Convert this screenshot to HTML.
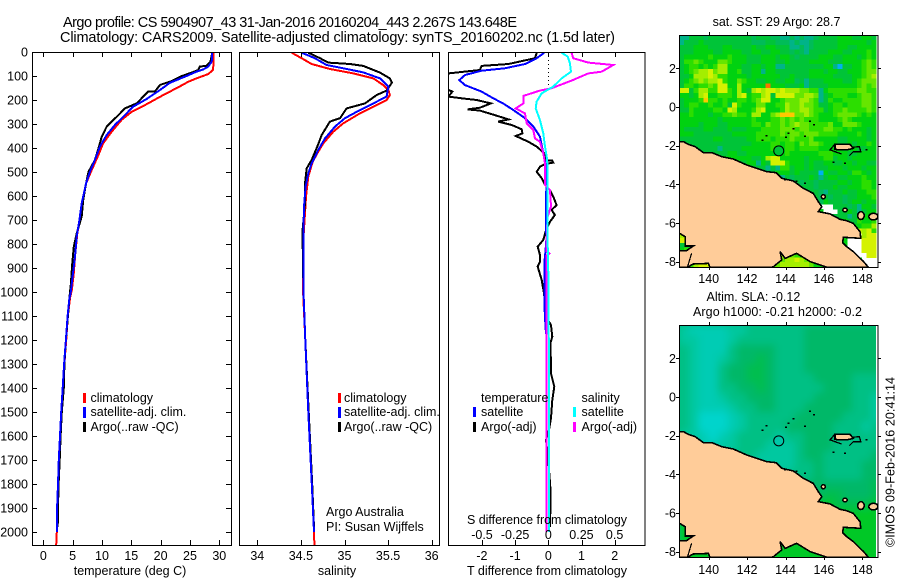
<!DOCTYPE html>
<html>
<head>
<meta charset="utf-8">
<title>Argo profile</title>
<style>
html,body{margin:0;padding:0;background:#fff;width:900px;height:580px;overflow:hidden}
svg{display:block}
text{font-family:"Liberation Sans",sans-serif;font-size:12.5px;fill:#000}
.title{font-size:14.5px}
.line{fill:none;stroke-width:2;stroke-linejoin:miter;shape-rendering:crispEdges}
.frame{fill:none;stroke:#000;stroke-width:1;shape-rendering:crispEdges}
.tick{stroke:#000;stroke-width:1;shape-rendering:crispEdges}
.key{shape-rendering:crispEdges}
.land{fill:#ffcc99;stroke:#000;stroke-width:1.6;shape-rendering:crispEdges}
</style>
</head>
<body>
<svg id="chart" xmlns="http://www.w3.org/2000/svg" width="900" height="580" viewBox="0 0 900 580">
<defs>
<clipPath id="clip-diff"><rect x="449" y="52" width="196" height="493"/></clipPath>
<clipPath id="clip-map1"><rect x="679.5" y="35" width="198" height="232.5"/></clipPath>
<clipPath id="clip-map2"><rect x="679.5" y="325" width="198" height="232.5"/></clipPath>
<filter id="sla-blur" x="-5%" y="-5%" width="110%" height="110%"><feGaussianBlur stdDeviation="4"/></filter>
</defs>

<text class="title" x="63" y="27" textLength="454" lengthAdjust="spacing">Argo profile: CS 5904907_43 31-Jan-2016 20160204_443 2.267S 143.648E</text>
<text class="title" x="60" y="42" textLength="555" lengthAdjust="spacing">Climatology: CARS2009. Satellite-adjusted climatology: synTS_20160202.nc (1.5d later)</text>

<g id="p1"></g>
<g id="p2"></g>
<g id="p3"></g>
<g id="m1"></g>
<g id="m2"></g>

<text x="130" y="575" text-anchor="middle">temperature (deg C)</text>
<text x="337" y="575" text-anchor="middle">salinity</text>
<text x="547" y="575" text-anchor="middle" textLength="160" lengthAdjust="spacing">T difference from climatology</text>
<text x="547" y="524" text-anchor="middle" textLength="160" lengthAdjust="spacing">S difference from climatology</text>

<g>
<rect class="key" x="83" y="393" width="3" height="10" fill="#ff0000"/>
<rect class="key" x="83" y="407" width="3" height="11" fill="#0000ff"/>
<rect class="key" x="83" y="422" width="3" height="10" fill="#000000"/>
<text x="90.5" y="402">climatology</text>
<text x="90.5" y="416">satellite-adj. clim.</text>
<text x="90.5" y="431">Argo(..raw -QC)</text>
</g>
<g>
<rect class="key" x="338" y="393" width="3" height="10" fill="#ff0000"/>
<rect class="key" x="338" y="407" width="3" height="11" fill="#0000ff"/>
<rect class="key" x="338" y="422" width="3" height="10" fill="#000000"/>
<text x="344" y="402">climatology</text>
<text x="344" y="416">satellite-adj. clim.</text>
<text x="344" y="431">Argo(..raw -QC)</text>
</g>
<g>
<text x="481" y="402">temperature</text>
<rect class="key" x="473" y="407" width="3" height="10" fill="#0000ff"/>
<rect class="key" x="473" y="422" width="3" height="10" fill="#000000"/>
<text x="481" y="416">satellite</text>
<text x="481" y="431">Argo(-adj)</text>
<text x="581.5" y="402">salinity</text>
<rect class="key" x="573" y="407" width="3" height="10" fill="#00ffff"/>
<rect class="key" x="573" y="422" width="3" height="10" fill="#ff00ff"/>
<text x="581.5" y="416">satellite</text>
<text x="581.5" y="431">Argo(-adj)</text>
</g>

<text x="326" y="516">Argo Australia</text>
<text x="326" y="531">PI: Susan Wijffels</text>

<text x="776.5" y="26" text-anchor="middle">sat. SST: 29 Argo: 28.7</text>
<text x="706.5" y="301">Altim. SLA: -0.12</text>
<text x="693" y="316" textLength="169" lengthAdjust="spacing">Argo h1000: -0.21 h2000: -0.2</text>
<text transform="translate(894.5,547) rotate(-90)" textLength="170" lengthAdjust="spacing">©IMOS 09-Feb-2016 20:41:14</text>
</svg>

<script>
// ---- profile tick data ----
const depthTicks = [0,100,200,300,400,500,600,700,800,900,1000,1100,1200,1300,1400,1500,1600,1700,1800,1900,2000];
const tempTicks = [0,5,10,15,20,25,30];
const salTicks = [34,34.5,35,35.5,36];
const salTickLabels = ['34','34.5','35','35.5','36'];
const tDiffTicks = [-2,-1,0,1,2];
const tDiffLabels = ['-2','-1','0','1','2'];
const sDiffTicks = [-0.5,-0.25,0,0.25,0.5];
const sDiffLabels = ['-0.5','-0.25','0','0.25','0.5'];

// ---- temperature panel ----
const climDepth = [0,47,75,92,110,124,147,179,225,249,283,332,381,429,492,547,631,700,756,839,922,992,1026,1100,1200,1300,1400,1500,1600,1700,1800,1900,2000,2054];
const climTemp = [28.98,29.03,28.9,28.1,26.1,24.7,23.0,20.45,17.05,15.05,13.35,11.65,10.2,9.4,8.25,7.3,6.7,6.25,5.8,5.45,5.2,4.85,4.55,4.2,3.9,3.6,3.4,3.1,2.85,2.65,2.5,2.4,2.3,2.2];
const satDepth = [0,40,61,72,82,100,117,128,158,196,228,263,304,346,394,450,499,547,631,700,769,853,936,1006,1026,1100,1200,1300,1400,1500,1600,1700,1800,1900,2000];
const satTemp = [28.8,28.7,28.1,27.3,26.1,24.4,22.7,21.6,19.9,17.6,15.3,13.9,12.2,10.8,9.65,8.8,7.95,7.3,6.55,6.15,5.7,5.4,5.0,4.65,4.45,4.15,3.85,3.55,3.3,3.05,2.85,2.65,2.5,2.35,2.3];
const argoDepth = [0,40,57,61,75,86,100,121,137,165,165,186,214,235,263,290,311,353,394,450,499,547,617,686,756,811,894,964,1026,1100,1200,1300,1400,1500,1600,1700,1800,1900,1980];
const argoTemp = [28.8,28.5,27.85,26.7,26.4,25.3,23.6,21.9,19.9,19.0,17.9,17.05,15.9,13.9,12.8,11.65,10.8,9.95,9.5,8.8,7.7,7.3,6.8,6.55,5.7,5.2,4.9,4.7,4.45,4.2,3.85,3.6,3.5,3.15,2.95,2.8,2.6,2.5,2.45];

// ---- salinity panel ----
const climSalDepth = [3,26,50,71,89,110,138,158,179,200,228,256,297,332,381,422,457,519,603,672,783,1000,1200,1500,1800,2000,2054];
const climSal = [34.394,34.508,34.623,34.833,35.101,35.33,35.445,35.502,35.521,35.483,35.33,35.177,34.986,34.872,34.757,34.688,34.635,34.585,34.558,34.547,34.527,34.525,34.55,34.585,34.625,34.65,34.655];
const satSalDepth = [3,26,54,68,85,110,144,186,214,242,276,311,360,408,464,506,561,644,783,1000,1200,1500,1800,2000];
const satSal = [34.508,34.661,34.795,34.986,35.216,35.407,35.502,35.483,35.33,35.177,35.005,34.891,34.776,34.7,34.623,34.585,34.554,34.535,34.527,34.53,34.55,34.585,34.625,34.65];
const argoSalDepth = [3,26,44,50,58,86,110,128,161,179,214,235,276,290,346,394,450,485,547,631,742,783,1000,1200,1500,1800,1980];
const argoSal = [34.585,34.719,34.814,35.063,35.216,35.407,35.521,35.544,35.483,35.369,35.235,35.024,34.948,34.833,34.738,34.688,34.623,34.566,34.547,34.547,34.52,34.52,34.53,34.55,34.59,34.63,34.65];

// ---- difference panel ----
const tSatDepth = [3,26,50,68,78,96,117,138,165,193,214,242,276,311,353,422,478,547,603,783,825,881,1047,1152,1186,2000];
const tSatDiff = [-0.12,-0.35,-0.7,-1.31,-2.01,-2.51,-2.68,-2.51,-2.01,-1.66,-1.36,-1.05,-0.7,-0.45,-0.25,-0.15,-0.07,-0.05,-0.07,-0.06,-0.08,-0.12,-0.12,-0.08,-0.05,-0.05];
const tArgoDepth = [3,26,50,58,75,89,103,144,158,165,186,193,200,214,232,239,244,263,281,290,304,322,339,350,374,394,422,450,453,461,467,478,499,526,554,575,603,638,658,679,707,742,783,811,846,874,894,950,1006,1047,1103,1138,1186,1214,1297,1339,1394,1450,1526,1575,1617,1700,1812,1917,1980];
const tArgoDiff = [-0.35,-0.4,-1.2,-2.01,-2.06,-3.01,-3.7,-3.7,-3.01,-2.89,-3.01,-2.61,-2.16,-1.73,-2.06,-2.43,-2.06,-1.61,-1.2,-1.51,-1.1,-0.8,-0.78,-0.98,-0.6,-0.35,-0.12,-0.1,0.12,0.15,-0.1,-0.25,-0.35,-0.2,-0.1,0.05,0.15,0.25,0.1,0.2,0.05,-0.07,-0.15,-0.32,-0.25,-0.25,-0.32,-0.2,-0.13,-0.1,-0.07,0.08,0.12,0.06,0.08,0.08,0.18,0.12,0.08,0.02,-0.07,0,0.06,0.06,0.05];
const sArgoDepth = [3,26,44,54,82,89,119,151,161,183,214,235,256,297,325,360,374,422,464,533,554,575,644,686,783,830,839,848,2000];
const sArgoDiff = [0.176,0.188,0.302,0.49,0.402,0.302,0.176,0.025,-0.063,-0.188,-0.188,-0.246,-0.176,-0.163,-0.113,-0.1,-0.063,-0.038,-0.025,-0.025,-0.025,0.013,0.02,-0.005,-0.013,-0.013,0.008,-0.013,-0.013];
const sSatDepth = [3,19,47,82,110,144,172,207,235,283,339,394,450,533,783,1000,2000];
const sSatDiff = [0.1,0.146,0.163,0.171,0.1,0.038,-0.05,-0.088,-0.095,-0.063,-0.038,-0.025,-0.008,-0.005,-0.005,0.003,0.005];

// ---- map data ----
const lonTicks = [140,142,144,146,148];
const latTicks = [2,0,-2,-4,-6,-8];
const latTickLabels = ['2','0','-2','-4','-6','-8'];
const gridLon0 = 138.47;
const gridLat0 = 3.72;
const sstCellDeg = 0.25;
const slaCellDeg = 0.5;
const sstCols = 41;
const profileLon = 143.648;
const profileLat = -2.267;

const sstPalette = {t:'#00b488',a:'#00bcc0',b:'#00b0f0','0':'#00bc58','1':'#00c438','2':'#00d210','3':'#2cde00','4':'#66e600','5':'#a4ee00','6':'#d4f200','7':'#ffc800','8':'#ff7000'};
const sstRows = [
"tt1110111111111011100tt0t0tt0111122211221",
"t1112111111111100011000t0tt01111122222212",
"11122211122111121122111tt0t01111122112222",
"11122221122221122112211010t11112221122232",
"12222232223222111222122101111222112221232",
"13343222443222111222112111122221112222343",
"12332323552221122122tt1111111122tb1122343",
"12345564552231122t22111111122212211222344",
"11255565332222122222211211122222111122345",
"12345455632243221122112201t11122221123444",
"13323343662252222282221112t11112222223434",
"66135533663252156566565554433t23333334433",
"22125622333256233561666644554t12333223443",
"12223733232233234662234445543t13223333443",
"12332232231632224422335445443112332333443",
"11322223326522235622235445543312334333343",
"22322212233433255224577744543222344443232",
"22222222122222232223343434333222234322222",
"22221222112222233243343454433334224443222",
"21111221112111222333344434433344332322212",
"22211111111222223333343443444333322223212",
"11111112211111223332333433342222211222212",
"11111111111111122223323324344322211212232",
"11111111t11112222223223323333222221221122",
"ttt11111112211222222223222222333222112222",
"ttt11111122222211256622222122233122122222",
"tttttt1111111122t216663222121122112212211",
"1112t1111111111111t1t33122121112221222122",
"222222222221111tt111222121111b21122133212",
"22222222222222t111111t1011121t12211222322",
"2222222222222222111ttt1t10110111122122332",
"22222222222222222221t1t121110111211222332",
"222222222222222222222t1t101110t1112112233",
"22222222222222222222222211t01010110112223",
"22222222222222222222222222211021110122122",
"22222222222222222222222222222...11101t221",
"222222222222222222222222222222...1121t122",
"22222222222222222222222222222222111t11222",
"22222222222222222222222222222222222113223",
"22222222222222222222222222222222222222335",
"22222222222222222222222222222222222246563",
"55222222222222222222222222222222222...566",
"66222222222222222222222222222222222...666",
"11222222222222222222362222222222222...666",
"23222222222222222223223442222222222...666",
"22222222222222222212355432222222222....66",
"22222222222222222222345565442222222222...",
"22356662222222222223455555542222222222..."
];

const slaPalette = {'0':'#00c828','1':'#00be50','2':'#00b868','3':'#00c084','4':'#00c8a0','5':'#00ccb4','6':'#00d4cc'};
const slaRows = [
"455554433333322222222",
"445554333333322222222",
"345553222233322222222",
"345543221233322222222",
"345532211233322222222",
"345532211233332222333",
"345533221233333222333",
"345543322233332222334",
"345554332233322222334",
"346665433333222223334",
"346665433332222233343",
"445654333343322233333",
"445544333444322233333",
"444443334444322333332",
"444444444444332333322",
"444444444433332333322",
"444444444433222222221",
"444444444333222112221",
"000000000000000011110",
"000000000000000000000",
"000000000000000000000",
"000000000000000000000",
"000000000000000000000",
"000000000000000000000",
"000000000000000000000"
];

const coastLon = [138.47,138.68,138.94,139.29,139.72,140.16,140.68,141.28,141.98,142.5,143.02,143.51,143.8,144.41,144.93,145.45,145.71,145.89,145.71,146.32,146.84,147.19,147.53,147.88,147.92,147.01,146.98,147.19,147.53,148.06,148.32,146.15,145.28,144.58,143.98,143.72,143.8,143.37,143.28,140.07,139.98,139.2,138.89,138.47,138.47,138.85,139.2,138.77,138.77,138.47];
const coastLat = [-1.79,-1.79,-1.93,-2.05,-2.36,-2.36,-2.57,-2.69,-3.0,-3.17,-3.34,-3.4,-3.69,-3.83,-4.21,-4.47,-4.9,-5.16,-5.41,-5.53,-5.81,-5.88,-6.02,-6.45,-6.79,-6.74,-7.02,-7.22,-7.48,-8.0,-8.29,-8.29,-8.0,-7.57,-7.83,-7.48,-7.91,-8.26,-8.29,-8.29,-8.09,-8.12,-8.29,-8.29,-7.43,-7.43,-7.19,-7.19,-6.71,-6.53];
const manusLon = [146.58,147.36,147.53,147.19,146.84,146.58];
const manusLat = [-1.93,-1.93,-2.14,-2.22,-2.22,-2.19];
const reefLon = [146.92,146.32,146.53,147.45,147.85,147.92,147.53,147.33];
const reefLat = [-2.43,-2.22,-1.97,-2.09,-2.05,-2.31,-2.31,-2.52];
const riverLon = [139.11,138.89];
const riverLat = [-7.57,-8.29];
const isleLon = [145.97,147.1,147.93,148.58];
const isleLat = [-4.64,-5.33,-5.62,-5.67];
const isleRadLon = [0.1,0.11,0.17,0.24];
const isleRadLat = [0.11,0.1,0.2,0.17];
const islandDotLon = [142.81,143.02,144.03,144.15,144.41,145.02,145.28,145.49,146.49,147.1,148.23,143.98,144.58,145.02];
const islandDotLat = [-1.74,-1.5,-1.57,-1.36,-1.14,-1.53,-0.76,-0.93,-2.88,-2.91,-2.22,-3.78,-3.86,-3.95];

// ---- axis functions ----
const depthY = d => 52 + 0.24 * d;
const tempX = t => 43.3 + 5.867 * t;
const salX = s => 257.3 + 87.2 * (s - 34);
const tDiffX = t => 548.3 + 33.2 * t;
const sDiffX = s => 548.3 + 132.6 * s;
const lonX = lon => 708.7 + 19.2 * (lon - 140);
const latY = (lat, base) => base - 19.33 * lat;

const NS = 'http://www.w3.org/2000/svg';
function make(parent, tag, attrs) {
  const el = document.createElementNS(NS, tag);
  for (const k in attrs) el.setAttribute(k, attrs[k]);
  parent.appendChild(el);
  return el;
}
function profile(parent, name, xs, ds, xf, color, width) {
  const pts = xs.map((v, i) => xf(v).toFixed(1) + ',' + depthY(ds[i]).toFixed(1)).join(' ');
  const el = make(parent, 'polyline', {points: pts, class: 'line', stroke: color, 'stroke-width': width || 2});
  
  
  return el;
}
function tickLine(parent, x1, y1, x2, y2) {
  const el = make(parent, 'line', {x1: x1, y1: y1, x2: x2, y2: y2, class: 'tick'});
  
  
}
function label(parent, x, y, str, anchor) {
  const el = make(parent, 'text', {x: x, y: y, 'text-anchor': anchor || 'middle'});
  el.textContent = str;
  
  
}
function frame(parent, x, y, w, h) {
  const el = make(parent, 'rect', {x: x, y: y, width: w, height: h, class: 'frame'});
  
  
}
function xTicks(parent, vals, labels, xf, top, bottom, labelY) {
  vals.forEach((v, i) => {
    const x = Math.round(xf(v)) + 0.5;
    tickLine(parent, x, top, x, top + 5);
    tickLine(parent, x, bottom, x, bottom - 5);
    if (labelY) label(parent, xf(v), labelY, labels[i]);
  });
}

// ---- temperature panel ----
const p1 = document.getElementById('p1');
profile(p1, 'climatology-temperature-line', climTemp, climDepth, tempX, '#ff0000');
profile(p1, 'argo-temperature-line', argoTemp, argoDepth, tempX, '#000000', 2.4);
profile(p1, 'satellite-temperature-line', satTemp, satDepth, tempX, '#0000ff', 2.4);
frame(p1, 32.5, 52.5, 199, 493);
xTicks(p1, tempTicks, tempTicks.map(String), tempX, 52, 545, 560);
depthTicks.forEach(d => {
  const y = Math.round(depthY(d)) + 0.5;
  tickLine(p1, 32, y, 37, y);
  tickLine(p1, 231, y, 226, y);
  label(p1, 28, depthY(d) + 4.5, String(d), 'end');
});

// ---- salinity panel ----
const p2 = document.getElementById('p2');
profile(p2, 'climatology-salinity-line', climSal, climSalDepth, salX, '#ff0000');
profile(p2, 'argo-salinity-line', argoSal, argoSalDepth, salX, '#000000', 2.4);
profile(p2, 'satellite-salinity-line', satSal, satSalDepth, salX, '#0000ff', 2.4);
frame(p2, 239.5, 52.5, 200, 493);
xTicks(p2, salTicks, salTickLabels, salX, 52, 545, 560);

// ---- difference panel ----
const p3 = document.getElementById('p3');
const zeroLine = make(p3, 'line', {x1: 548.5, y1: 52, x2: 548.5, y2: depthY(150), stroke: '#000', 'stroke-width': 1, 'stroke-dasharray': '1 3', 'shape-rendering': 'crispEdges'});


const p3Clip = make(p3, 'g', {'clip-path': 'url(#clip-diff)'});


profile(p3Clip, 'argo-temperature-difference-line', tArgoDiff, tArgoDepth, tDiffX, '#000000', 2.4);
profile(p3Clip, 'satellite-temperature-difference-line', tSatDiff, tSatDepth, tDiffX, '#0000ff');
profile(p3Clip, 'argo-salinity-difference-line', sArgoDiff, sArgoDepth, sDiffX, '#ff00ff', 2.4);
const sSatSplit = sSatDepth.indexOf(533);
profile(p3Clip, 'satellite-salinity-difference-line-upper', sSatDiff.slice(0, sSatSplit + 1), sSatDepth.slice(0, sSatSplit + 1), sDiffX, '#00ffff', 2.4);
profile(p3Clip, 'satellite-salinity-difference-line-deep', sSatDiff.slice(sSatSplit), sSatDepth.slice(sSatSplit), sDiffX, '#00ffff', 3.6);
frame(p3, 448.5, 52.5, 196.5, 493);
xTicks(p3, tDiffTicks, tDiffLabels, tDiffX, 52, 545, 560);
sDiffTicks.forEach((s, i) => label(p3, sDiffX(s), 539, sDiffLabels[i]));

// ---- maps ----
function drawLand(g, base) {
  const land = make(g, 'polygon', {class: 'land', points: coastLon.map((v, i) => lonX(v).toFixed(1) + ',' + latY(coastLat[i], base).toFixed(1)).join(' ')});
  
  
  const reef = make(g, 'polyline', {fill: 'none', stroke: '#000', 'stroke-width': 1.3, 'shape-rendering': 'crispEdges', points: reefLon.map((v, i) => lonX(v).toFixed(1) + ',' + latY(reefLat[i], base).toFixed(1)).join(' ')});
  
  
  const manus = make(g, 'polygon', {class: 'land', 'stroke-width': 2, points: manusLon.map((v, i) => lonX(v).toFixed(1) + ',' + latY(manusLat[i], base).toFixed(1)).join(' ')});
  
  
  const river = make(g, 'polyline', {fill: 'none', stroke: '#000', 'stroke-width': 1.2, 'shape-rendering': 'crispEdges', points: riverLon.map((v, i) => lonX(v).toFixed(1) + ',' + latY(riverLat[i], base).toFixed(1)).join(' ')});
  
  
  isleLon.forEach((v, i) => {
    const isle = make(g, 'ellipse', {class: 'land', cx: lonX(v), cy: latY(isleLat[i], base), rx: isleRadLon[i] * 19.2, ry: isleRadLat[i] * 19.33, 'stroke-width': 1});
    
    
  });
  islandDotLon.forEach((v, i) => {
    const dot = make(g, 'rect', {x: lonX(v) - 1, y: latY(islandDotLat[i], base) - 1, width: 2, height: 1.5, fill: '#000', 'shape-rendering': 'crispEdges'});
    
    
  });
}
function drawMapFrame(g, top, bottom, base, labelY) {
  frame(g, 679.5, top + 0.5, 198.5, bottom - top);
  lonTicks.forEach(v => {
    const x = Math.round(lonX(v)) + 0.5;
    tickLine(g, x, top, x, top - 3);
    tickLine(g, x, bottom, x, bottom + 3);
    label(g, lonX(v), labelY, String(v));
  });
  latTicks.forEach((v, i) => {
    const y = Math.round(latY(v, base)) + 0.5;
    tickLine(g, 679, y, 676, y);
    tickLine(g, 878, y, 881, y);
    label(g, 676, latY(v, base) + 4.5, latTickLabels[i], 'end');
  });
}
function marker(g, base, fill) {
  const c = make(g, 'circle', {cx: lonX(profileLon), cy: latY(profileLat, base), r: 5, fill: fill, stroke: '#000', 'stroke-width': 1});
  
  
}

// SST map
const m1 = document.getElementById('m1');
const m1Base = 107;
const m1Clip = make(m1, 'g', {'clip-path': 'url(#clip-map1)'});


sstRows.forEach((row, r) => {
  for (let c = 0; c < sstCols; c++) {
    const code = c < row.length ? row[c] : row[row.length - 1];
    const col = sstPalette[code];
    if (!col) continue;
    const lon = gridLon0 + c * sstCellDeg;
    const lat = gridLat0 - r * sstCellDeg;
    const cell = make(m1Clip, 'rect', {
      x: lonX(lon), y: latY(lat, m1Base),
      width: lonX(lon + sstCellDeg) - lonX(lon) + 0.4,
      height: latY(lat - sstCellDeg, m1Base) - latY(lat, m1Base) + 0.4,
      fill: col, 'shape-rendering': 'crispEdges'
    });
    
    
  }
});
drawLand(m1Clip, m1Base);
marker(m1Clip, m1Base, '#00c438');
drawMapFrame(m1, 35, 267, m1Base, 283);

// SLA map
const m2 = document.getElementById('m2');
const m2Base = 397;
const m2Clip = make(m2, 'g', {'clip-path': 'url(#clip-map2)'});


const slaBack = make(m2Clip, 'rect', {x: 679, y: 325, width: 197, height: 233, fill: '#00c084'});


const slaGroup = make(m2Clip, 'g', {filter: 'url(#sla-blur)'});


slaRows.forEach((row, r) => {
  for (let c = 0; c < row.length; c++) {
    const lon = gridLon0 + c * slaCellDeg;
    const lat = gridLat0 - r * slaCellDeg;
    const cell = make(slaGroup, 'rect', {
      x: lonX(lon), y: latY(lat, m2Base),
      width: lonX(lon + slaCellDeg) - lonX(lon) + 0.5,
      height: latY(lat - slaCellDeg, m2Base) - latY(lat, m2Base) + 0.5,
      fill: slaPalette[row[c]]
    });
    
    
  }
});
const edge = make(m2Clip, 'rect', {x: 876, y: 325, width: 3, height: 233, fill: '#fff'});


drawLand(m2Clip, m2Base);
marker(m2Clip, m2Base, '#00c8a8');
drawMapFrame(m2, 325, 557, m2Base, 574);
</script>
</body>
</html>
